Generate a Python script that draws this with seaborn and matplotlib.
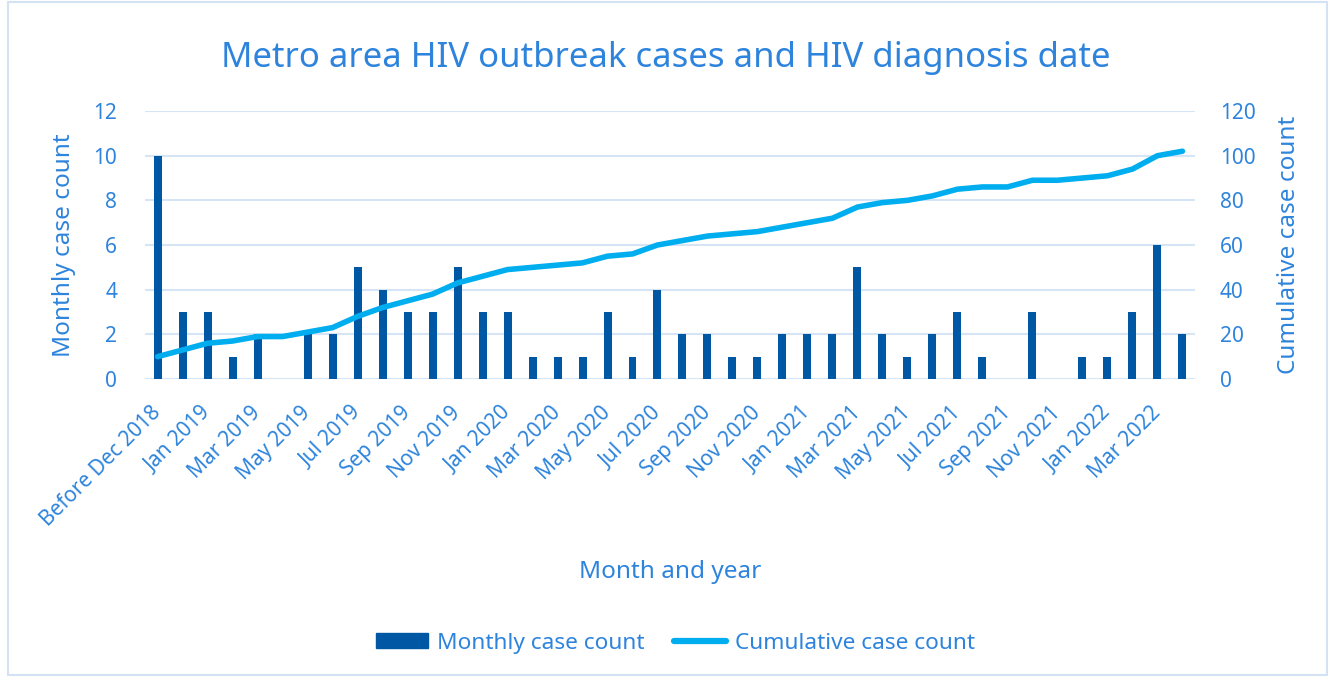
import matplotlib
matplotlib.use("Agg")
import matplotlib.pyplot as plt
import matplotlib.patches as mpatches
from matplotlib.lines import Line2D
import seaborn as sns
import pandas as pd
import numpy as np

months = ["Before Dec 2018", "Dec 2018",
          "Jan 2019", "Feb 2019", "Mar 2019", "Apr 2019", "May 2019", "Jun 2019",
          "Jul 2019", "Aug 2019", "Sep 2019", "Oct 2019", "Nov 2019", "Dec 2019",
          "Jan 2020", "Feb 2020", "Mar 2020", "Apr 2020", "May 2020", "Jun 2020",
          "Jul 2020", "Aug 2020", "Sep 2020", "Oct 2020", "Nov 2020", "Dec 2020",
          "Jan 2021", "Feb 2021", "Mar 2021", "Apr 2021", "May 2021", "Jun 2021",
          "Jul 2021", "Aug 2021", "Sep 2021", "Oct 2021", "Nov 2021", "Dec 2021",
          "Jan 2022", "Feb 2022", "Mar 2022", "Apr 2022"]
monthly = [10, 3, 3, 1, 2, 0, 2, 2, 5, 4, 3, 3, 5, 3,
           3, 1, 1, 1, 3, 1, 4, 2, 2, 1, 1, 2,
           2, 2, 5, 2, 1, 2, 3, 1, 0, 3, 0, 1,
           1, 3, 6, 2]
cumulative = [10, 13, 16, 17, 19, 19, 21, 23, 28, 32, 35, 38, 43, 46,
              49, 50, 51, 52, 55, 56, 60, 62, 64, 65, 66, 68,
              70, 72, 77, 79, 80, 82, 85, 86, 86, 89, 89, 90,
              91, 94, 100, 102]

TEXT = "#2E84DC"
BAR = "#0057A3"
LINE = "#00AEEF"
GRID = "#D6E5F5"

sns.set_theme(style="white")
plt.rcParams["font.family"] = ["Noto Sans", "DejaVu Sans"]

df = pd.DataFrame({"month": months, "monthly": monthly,
                   "pos": np.arange(len(months)), "cumulative": cumulative})

fig = plt.figure(figsize=(13.32, 6.77), dpi=100)
ax = fig.add_axes([0.1089, 0.4402, 0.7882, 0.3958])

sns.barplot(data=df, x="pos", y="monthly", color=BAR, width=0.32,
            saturation=1, ax=ax, native_scale=True, edgecolor="none")
ax.set_ylim(0, 12)
ax.set_yticks(np.arange(0, 13, 2))
ax.set_xlim(-0.5, len(months) - 0.5)
ax.yaxis.grid(True, color=GRID, linewidth=1.5)
ax.set_axisbelow(True)
for s in ax.spines.values():
    s.set_visible(False)

ax2 = ax.twinx()
sns.lineplot(data=df, x="pos", y="cumulative", color=LINE, linewidth=4,
             ax=ax2, solid_capstyle="round", legend=False)
ax2.set_ylim(0, 120)
ax2.set_yticks(np.arange(0, 121, 20))
for s in ax2.spines.values():
    s.set_visible(False)
ax2.set_xlim(-0.5, len(months) - 0.5)

ticks = list(range(0, len(months), 2))
ax.set_xticks(ticks)
ax.set_xticklabels([months[i] for i in ticks], rotation=45, ha="right",
                   va="center", rotation_mode="anchor")
ax.tick_params(axis="x", length=0, pad=22, labelsize=15, labelcolor=TEXT)
ax.tick_params(axis="y", length=0, pad=20, labelsize=15, labelcolor=TEXT)
ax2.tick_params(axis="y", length=0, pad=18, labelsize=15, labelcolor=TEXT)

ax.set_xlabel("Month and year", fontsize=17.5, color=TEXT)
ax.set_ylabel("Monthly case count", fontsize=17.5, color=TEXT)
ax2.set_ylabel("Cumulative case count", fontsize=17.5, color=TEXT,
               rotation=90)
ax.xaxis.set_label_coords(0.5, -0.675)
ax.yaxis.set_label_coords(-0.066, 0.5)
ax2.yaxis.set_label_coords(1.078, 0.5)

fig.suptitle("Metro area HIV outbreak cases and HIV diagnosis date",
             fontsize=25, color=TEXT, y=0.94)

handles = [mpatches.Patch(color=BAR, label="Monthly case count"),
           Line2D([0], [0], color=LINE, lw=4.5, solid_capstyle="round",
                  label="Cumulative case count")]
fig.legend(handles=handles, loc="center", bbox_to_anchor=(0.507, 0.05),
           ncol=2, frameon=False, fontsize=16.3, labelcolor=TEXT,
           handlelength=2.3, handleheight=0.65, handletextpad=0.4,
           columnspacing=1.3)

fig.patches.append(mpatches.Rectangle((0.006, 0.003), 0.99, 0.994,
                                      transform=fig.transFigure, fill=False,
                                      edgecolor="#D4E3F3", linewidth=1.5))

fig.savefig("out.png", dpi=100)
